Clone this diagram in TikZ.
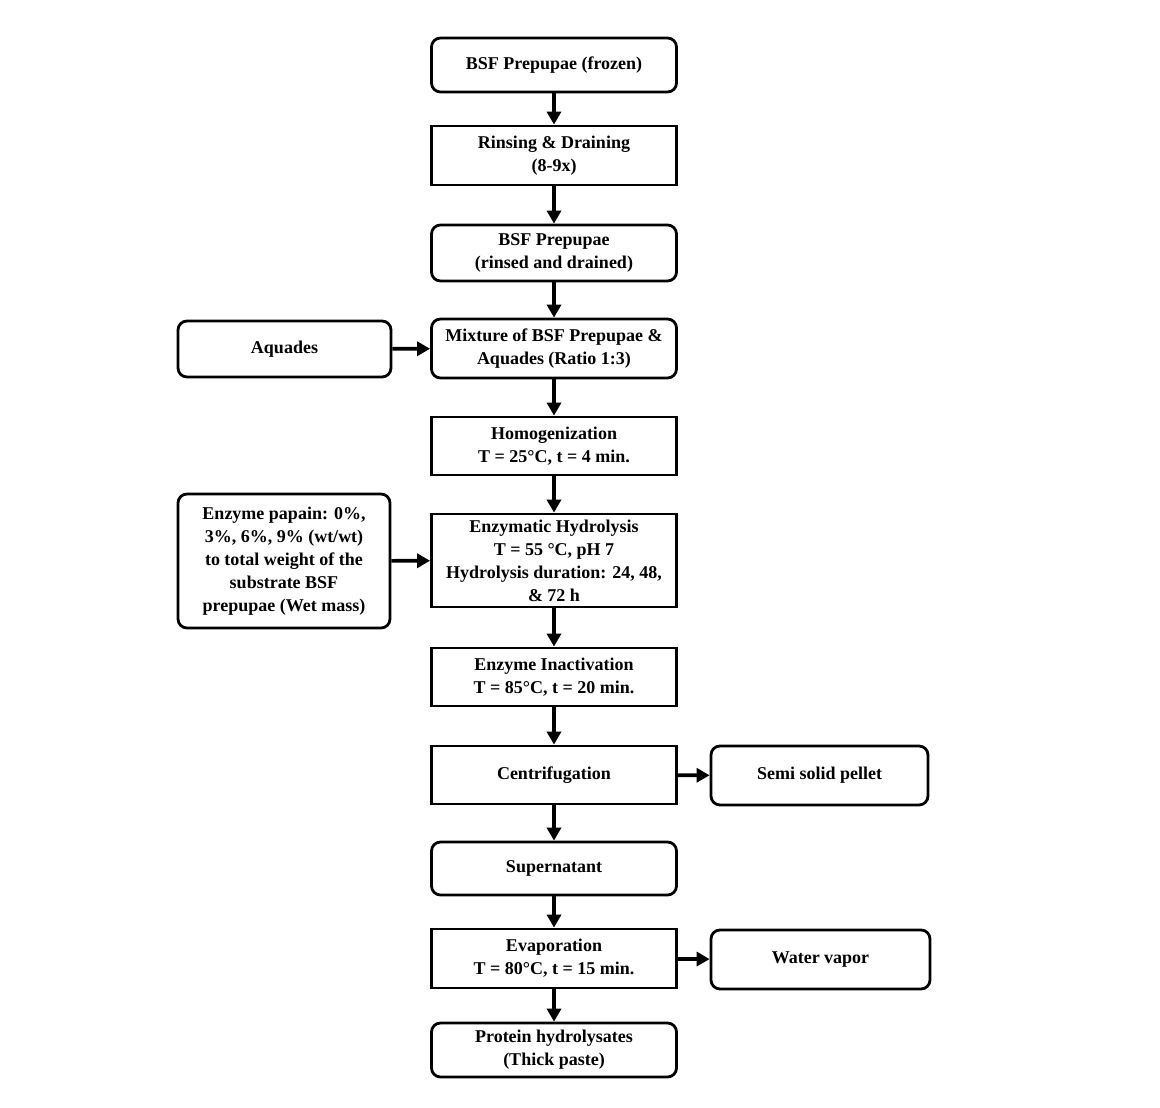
\documentclass[tikz,border=0pt]{standalone}
\usepackage{fontspec}
\setmainfont{Liberation Serif}
\usepackage{tikz}
\usetikzlibrary{arrows.meta,positioning}

\begin{document}
\begin{tikzpicture}[x=1pt,y=-1pt,
    base/.style={draw,line width=2.8pt,align=center,minimum width=245pt,
      font=\fontsize{18}{23}\selectfont\bfseries,inner sep=2pt},
    rbox/.style={base,rounded corners=9pt},
    sbox/.style={base},
    flow/.style={line width=3.6pt,-{Triangle[length=13pt,width=14pt]}}]
  \useasboundingbox (0,0) rectangle (1160,1108);
  % main column
  \node[rbox,minimum height=54pt] (frozen) at (554,65) {BSF Prepupae (frozen)};
  \node[sbox,minimum height=59pt] (rinse) at (554,155.5) {Rinsing \& Draining\\(8-9x)};
  \node[rbox,minimum height=56pt] (drained) at (554,253) {BSF Prepupae\\(rinsed and drained)};
  \node[rbox,minimum height=59pt] (mix) at (554,348.5) {Mixture of BSF Prepupae \&\\Aquades (Ratio 1:3)};
  \node[sbox,minimum height=58pt] (homog) at (554,446) {Homogenization\\T = 25°C, t = 4 min.};
  \node[sbox,minimum height=93pt] (hydro) at (554,560.5)
    {Enzymatic Hydrolysis\\T = 55 °C, pH 7\\Hydrolysis duration: 24, 48,\\\& 72 h};
  \node[sbox,minimum height=58pt] (inact) at (554,677) {Enzyme Inactivation\\T = 85°C, t = 20 min.};
  \node[sbox,minimum height=58pt] (centri) at (554,775) {Centrifugation};
  \node[rbox,minimum height=53pt] (super) at (554,868.5) {Supernatant};
  \node[sbox,minimum height=59pt] (evap) at (554,958.5) {Evaporation\\T = 80°C, t = 15 min.};
  \node[rbox,minimum height=54pt] (paste) at (554,1050) {Protein hydrolysates\\(Thick paste)};
  % side inputs and outputs
  \node[rbox,minimum width=213pt,minimum height=56pt] (aqua) at (284.5,349) {Aquades};
  \node[rbox,minimum width=212pt,minimum height=134pt] (papain) at (284,561)
    {Enzyme papain: 0\%,\\3\%, 6\%, 9\% (wt/wt)\\to total weight of the\\substrate BSF\\prepupae (Wet mass)};
  \node[rbox,minimum width=217pt,minimum height=59pt] (pellet) at (819.5,775.5) {Semi solid pellet};
  \node[rbox,minimum width=219pt,minimum height=59pt] (vapor) at (820.5,959.5) {Water vapor};

  \foreach \a/\b in {frozen/rinse,rinse/drained,drained/mix,mix/homog,homog/hydro,
      hydro/inact,inact/centri,centri/super,super/evap,evap/paste}
    \draw[flow] (\a) -- (\b);
  \draw[flow] (aqua) -- (mix);
  \draw[flow] (papain) -- (hydro);
  \draw[flow] (centri) -- (pellet);
  \draw[flow] (evap) -- (vapor);
\end{tikzpicture}
\end{document}
